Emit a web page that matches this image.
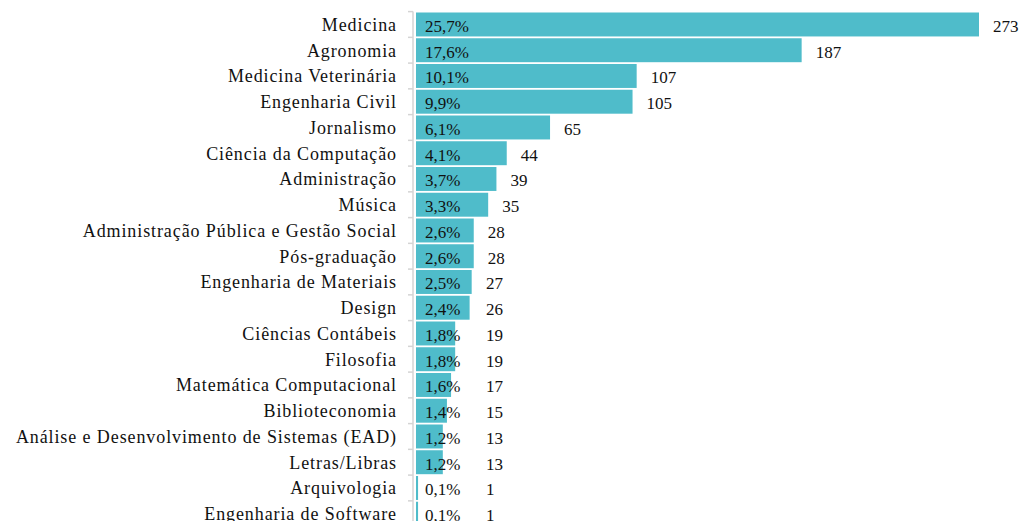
<!DOCTYPE html>
<html>
<head>
<meta charset="utf-8">
<script src="https://cdn.jsdelivr.net/npm/d3@7"></script>
<style>
  body { margin: 0; background: #fff; }
</style>
</head>
<body>
<div id="here"></div>
<script>
// Cursos - quantidade de respostas

const cursos = [
  "Medicina", "Agronomia", "Medicina Veterinária", "Engenharia Civil", "Jornalismo",
  "Ciência da Computação", "Administração", "Música",
  "Administração Pública e Gestão Social", "Pós-graduação", "Engenharia de Materiais",
  "Design", "Ciências Contábeis", "Filosofia", "Matemática Computacional",
  "Biblioteconomia", "Análise e Desenvolvimento de Sistemas (EAD)", "Letras/Libras",
  "Arquivologia", "Engenharia de Software"
];
const totais = [273, 187, 107, 105, 65, 44, 39, 35, 28, 28, 27, 26, 19, 19, 17, 15, 13, 13, 1, 1];
const percentuais = ["25,7%", "17,6%", "10,1%", "9,9%", "6,1%", "4,1%", "3,7%", "3,3%", "2,6%", "2,6%",
  "2,5%", "2,4%", "1,8%", "1,8%", "1,6%", "1,4%", "1,2%", "1,2%", "0,1%", "0,1%"];

const data = cursos.map(function(c, i){
    return { curso: c, total: totais[i], pct: percentuais[i] };
});

const width = 1020;
const height = 521;
const margin = { top: 11.6, left: 416 };
const fonte = "'Liberation Serif', 'Times New Roman', serif";

const svg = d3
    .select("#here")
    .append("svg")
    .attr("width", width)
    .attr("height", height);

const xScale = d3
    .scaleLinear()
    .domain([0, 273])
    .range([margin.left, 979]);

const yScale = d3
    .scaleBand()
    .domain(cursos)
    .range([margin.top, margin.top + 25.75 * cursos.length])
    .paddingInner(0.07)
    .paddingOuter(0.035);

// axis line + ticks between rows
const axisX = margin.left - 3;
svg.append("line")
    .attr("x1", axisX).attr("x2", axisX)
    .attr("y1", margin.top).attr("y2", height)
    .attr("stroke", "#d4d4d4")
    .attr("stroke-width", 1.5);

const bounds = d3.range(cursos.length + 1).map(function(k){
    return margin.top + yScale.step() * k;
});
svg.selectAll(".tick")
    .data(bounds)
    .enter()
    .append("line")
    .attr("class", "tick")
    .attr("x1", axisX - 5).attr("x2", axisX)
    .attr("y1", d => d).attr("y2", d => d)
    .attr("stroke", "#d4d4d4")
    .attr("stroke-width", 1.5);

// bars
svg.selectAll("rect.bar")
    .data(data)
    .enter()
    .append("rect")
    .attr("class", "bar")
    .attr("x", xScale(0))
    .attr("y", d => yScale(d.curso))
    .attr("width", d => Math.max(xScale(d.total) - xScale(0), 1.5))
    .attr("height", yScale.bandwidth())
    .attr("fill", "#4fbcca");

// category labels
svg.selectAll("text.cat")
    .data(data)
    .enter()
    .append("text")
    .attr("class", "cat")
    .attr("x", 397)
    .attr("y", d => yScale(d.curso) + yScale.bandwidth() / 2)
    .attr("dy", "0.35em")
    .attr("text-anchor", "end")
    .attr("fill", "#111")
    .style("font-family", fonte)
    .style("font-size", "18px")
    .style("letter-spacing", "0.9px")
    .text(d => d.curso);

// percent labels inside bars
svg.selectAll("text.pct")
    .data(data)
    .enter()
    .append("text")
    .attr("class", "pct")
    .attr("x", xScale(0) + 9)
    .attr("y", d => yScale(d.curso) + yScale.bandwidth() / 2 + 7.5)
    .attr("fill", "#111")
    .style("font-family", fonte)
    .style("font-size", "17px")
    .text(d => d.pct);

// count labels
svg.selectAll("text.val")
    .data(data)
    .enter()
    .append("text")
    .attr("class", "val")
    .attr("x", d => Math.max(xScale(d.total) + 14, xScale(0) + 70))
    .attr("y", d => yScale(d.curso) + yScale.bandwidth() / 2 + 7.5)
    .attr("fill", "#111")
    .style("font-family", fonte)
    .style("font-size", "17px")
    .text(d => d.total);
</script>
</body>
</html>
